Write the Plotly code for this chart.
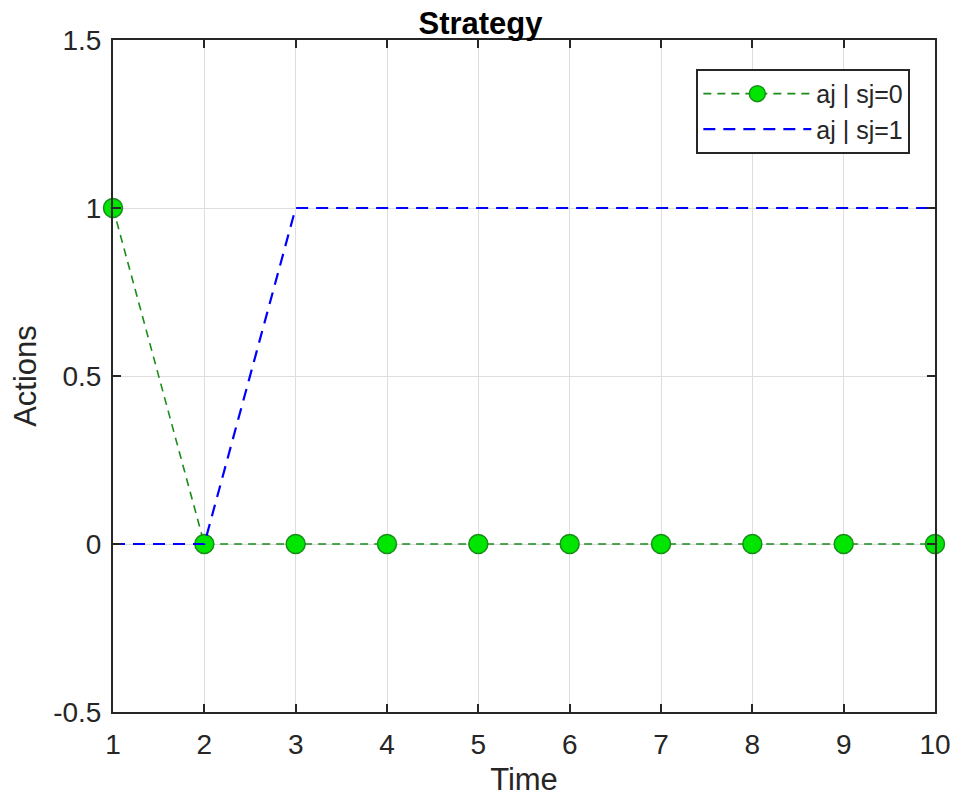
import plotly.graph_objects as go

time = [1, 2, 3, 4, 5, 6, 7, 8, 9, 10]
aj_sj0 = [1, 0, 0, 0, 0, 0, 0, 0, 0, 0]
aj_sj1 = [0, 0, 1, 1, 1, 1, 1, 1, 1, 1]
y_ticks = [-0.5, 0, 0.5, 1, 1.5]
y_tick_text = ["-0.5", "0", "0.5", "1", "1.5"]

FONT = "Liberation Sans, Arial, sans-serif"

fig = go.Figure()
fig.add_trace(go.Scatter(
    x=time, y=aj_sj0, mode="lines+markers", name="aj | sj=0",
    line=dict(color="#1a8c1a", width=1.6, dash="8px,6px"),
    marker=dict(size=19, color="#00e600", line=dict(color="#1a8c1a", width=1.5)),
    cliponaxis=False,
))
fig.add_trace(go.Scatter(
    x=time, y=aj_sj1, mode="lines", name="aj | sj=1",
    line=dict(color="#0000ff", width=2.2, dash="12px,8px"),
    cliponaxis=False,
))

axis_common = dict(
    automargin=False,
    ticklabeloverflow="allow",
    showgrid=True, gridcolor="#dedede", gridwidth=1.2,
    showline=True, linecolor="#262626", linewidth=2, mirror="ticks",
    ticks="inside", ticklen=8, tickcolor="#262626", tickwidth=2,
    tickfont=dict(family=FONT, size=28, color="#262626"),
    zeroline=False,
)

fig.update_layout(
    template="none",
    width=945, height=790,
    margin=dict(l=105, r=18, t=32, b=86, pad=0),
    paper_bgcolor="white", plot_bgcolor="white",
    title=dict(text="<b>Strategy</b>", x=0.5, xref="container", xanchor="center",
               y=0.981, yref="container", yanchor="middle",
               font=dict(family=FONT, size=31, color="black")),
    xaxis=dict(range=[1, 10], dtick=1, ticklabelstandoff=6,
               title=dict(text="Time", standoff=10,
                          font=dict(family=FONT, size=31, color="#262626")),
               **axis_common),
    yaxis=dict(range=[-0.5, 1.5], tickvals=y_ticks, ticktext=y_tick_text,
               ticklabelstandoff=4,
               title=dict(text="Actions", standoff=14,
                          font=dict(family=FONT, size=31, color="#262626")),
               **axis_common),
    legend=dict(x=0.97, y=0.957, xanchor="right", yanchor="top",
                bgcolor="white", bordercolor="#262626", borderwidth=2,
                font=dict(family=FONT, size=25, color="#262626"),
                itemwidth=108, tracegroupgap=0),
    showlegend=True,
)

fig.write_html("out.html")
